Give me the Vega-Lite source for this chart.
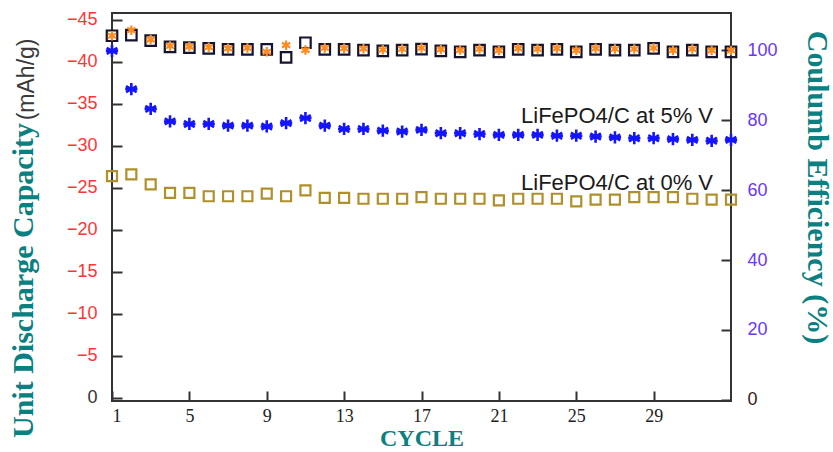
{
  "$schema": "https://vega.github.io/schema/vega-lite/v6.json",
  "width": 619,
  "height": 388,
  "autosize": {"type": "none"},
  "padding": {"left": 112, "top": 13, "right": 102, "bottom": 51},
  "background": "white",
  "config": {
    "view": {"stroke": "#333333", "strokeWidth": 2},
    "axis": {"grid": false, "domain": false, "tickColor": "#333333", "tickWidth": 2}
  },
  "datasets": {
    "cap0": [
      {"cycle": 1, "capacity": -26.4}, {"cycle": 2, "capacity": -26.6}, {"cycle": 3, "capacity": -25.4},
      {"cycle": 4, "capacity": -24.4}, {"cycle": 5, "capacity": -24.4}, {"cycle": 6, "capacity": -24.0},
      {"cycle": 7, "capacity": -24.0}, {"cycle": 8, "capacity": -24.0}, {"cycle": 9, "capacity": -24.3},
      {"cycle": 10, "capacity": -24.0}, {"cycle": 11, "capacity": -24.7}, {"cycle": 12, "capacity": -23.8},
      {"cycle": 13, "capacity": -23.8}, {"cycle": 14, "capacity": -23.7}, {"cycle": 15, "capacity": -23.7},
      {"cycle": 16, "capacity": -23.7}, {"cycle": 17, "capacity": -23.9}, {"cycle": 18, "capacity": -23.7},
      {"cycle": 19, "capacity": -23.7}, {"cycle": 20, "capacity": -23.7}, {"cycle": 21, "capacity": -23.5},
      {"cycle": 22, "capacity": -23.7}, {"cycle": 23, "capacity": -23.7}, {"cycle": 24, "capacity": -23.7},
      {"cycle": 25, "capacity": -23.4}, {"cycle": 26, "capacity": -23.6}, {"cycle": 27, "capacity": -23.6},
      {"cycle": 28, "capacity": -23.9}, {"cycle": 29, "capacity": -23.9}, {"cycle": 30, "capacity": -23.9},
      {"cycle": 31, "capacity": -23.7}, {"cycle": 32, "capacity": -23.6}, {"cycle": 33, "capacity": -23.6}
    ],
    "cap5": [
      {"cycle": 1, "capacity": -41.3}, {"cycle": 2, "capacity": -36.75}, {"cycle": 3, "capacity": -34.4},
      {"cycle": 4, "capacity": -32.9}, {"cycle": 5, "capacity": -32.6}, {"cycle": 6, "capacity": -32.6},
      {"cycle": 7, "capacity": -32.4}, {"cycle": 8, "capacity": -32.4}, {"cycle": 9, "capacity": -32.3},
      {"cycle": 10, "capacity": -32.7}, {"cycle": 11, "capacity": -33.3}, {"cycle": 12, "capacity": -32.4},
      {"cycle": 13, "capacity": -32.0}, {"cycle": 14, "capacity": -32.0}, {"cycle": 15, "capacity": -31.8},
      {"cycle": 16, "capacity": -31.7}, {"cycle": 17, "capacity": -31.9}, {"cycle": 18, "capacity": -31.5},
      {"cycle": 19, "capacity": -31.5}, {"cycle": 20, "capacity": -31.4}, {"cycle": 21, "capacity": -31.3},
      {"cycle": 22, "capacity": -31.3}, {"cycle": 23, "capacity": -31.3}, {"cycle": 24, "capacity": -31.2},
      {"cycle": 25, "capacity": -31.2}, {"cycle": 26, "capacity": -31.1}, {"cycle": 27, "capacity": -31.0},
      {"cycle": 28, "capacity": -30.9}, {"cycle": 29, "capacity": -30.9}, {"cycle": 30, "capacity": -30.8},
      {"cycle": 31, "capacity": -30.7}, {"cycle": 32, "capacity": -30.6}, {"cycle": 33, "capacity": -30.7}
    ],
    "eff0": [
      {"cycle": 1, "efficiency": 104.1}, {"cycle": 2, "efficiency": 104.3}, {"cycle": 3, "efficiency": 102.7},
      {"cycle": 4, "efficiency": 100.9}, {"cycle": 5, "efficiency": 100.7}, {"cycle": 6, "efficiency": 100.5},
      {"cycle": 7, "efficiency": 100.2}, {"cycle": 8, "efficiency": 100.2}, {"cycle": 9, "efficiency": 100.2},
      {"cycle": 10, "efficiency": 97.9}, {"cycle": 11, "efficiency": 102.1}, {"cycle": 12, "efficiency": 100.2},
      {"cycle": 13, "efficiency": 100.2}, {"cycle": 14, "efficiency": 100.0}, {"cycle": 15, "efficiency": 99.8},
      {"cycle": 16, "efficiency": 100.0}, {"cycle": 17, "efficiency": 100.3}, {"cycle": 18, "efficiency": 99.8},
      {"cycle": 19, "efficiency": 99.5}, {"cycle": 20, "efficiency": 100.0}, {"cycle": 21, "efficiency": 99.5},
      {"cycle": 22, "efficiency": 100.2}, {"cycle": 23, "efficiency": 100.0}, {"cycle": 24, "efficiency": 100.2},
      {"cycle": 25, "efficiency": 99.5}, {"cycle": 26, "efficiency": 100.2}, {"cycle": 27, "efficiency": 100.0},
      {"cycle": 28, "efficiency": 100.0}, {"cycle": 29, "efficiency": 100.5}, {"cycle": 30, "efficiency": 99.5},
      {"cycle": 31, "efficiency": 100.0}, {"cycle": 32, "efficiency": 99.5}, {"cycle": 33, "efficiency": 99.5}
    ],
    "eff5": [
      {"cycle": 1, "efficiency": 104.1}, {"cycle": 2, "efficiency": 105.7}, {"cycle": 3, "efficiency": 103.0},
      {"cycle": 4, "efficiency": 101.2}, {"cycle": 5, "efficiency": 101.0}, {"cycle": 6, "efficiency": 100.8},
      {"cycle": 7, "efficiency": 100.5}, {"cycle": 8, "efficiency": 100.6}, {"cycle": 9, "efficiency": 99.5},
      {"cycle": 10, "efficiency": 101.4}, {"cycle": 11, "efficiency": 100.0}, {"cycle": 12, "efficiency": 100.6},
      {"cycle": 13, "efficiency": 100.5}, {"cycle": 14, "efficiency": 100.4}, {"cycle": 15, "efficiency": 100.1},
      {"cycle": 16, "efficiency": 100.3}, {"cycle": 17, "efficiency": 100.6}, {"cycle": 18, "efficiency": 100.2},
      {"cycle": 19, "efficiency": 100.0}, {"cycle": 20, "efficiency": 100.3}, {"cycle": 21, "efficiency": 99.9},
      {"cycle": 22, "efficiency": 100.5}, {"cycle": 23, "efficiency": 100.3}, {"cycle": 24, "efficiency": 100.5},
      {"cycle": 25, "efficiency": 99.9}, {"cycle": 26, "efficiency": 100.5}, {"cycle": 27, "efficiency": 100.3},
      {"cycle": 28, "efficiency": 100.3}, {"cycle": 29, "efficiency": 100.6}, {"cycle": 30, "efficiency": 99.9},
      {"cycle": 31, "efficiency": 100.3}, {"cycle": 32, "efficiency": 99.9}, {"cycle": 33, "efficiency": 99.9}
    ]
  },
  "layer": [
    {
      "layer": [
        {
          "data": {"name": "cap0"},
          "mark": {"type": "point", "shape": "square", "filled": false, "size": 100, "strokeWidth": 2.2, "color": "#b0902a", "opacity": 1},
          "encoding": {
            "x": {
              "field": "cycle",
              "type": "quantitative",
              "scale": {"domain": [1, 33], "nice": false, "zero": false},
              "axis": {
                "values": [1, 5, 9, 13, 17, 21, 25, 29],
                "tickSize": -10,
                "labelPadding": 16,
                "labelFont": "Liberation Sans Narrow",
                "labelFontSize": 18,
                "labelColor": "#222222",
                "title": "CYCLE",
                "titleFont": "Liberation Serif",
                "titleFontWeight": "bold",
                "titleFontSize": 24,
                "titleColor": "#0a8080",
                "titleBaseline": "middle",
                "titleY": 37
              }
            },
            "y": {
              "field": "capacity",
              "type": "quantitative",
              "scale": {"domain": [0.36, -45.8], "nice": false, "zero": false},
              "axis": {
                "values": [-45, -40, -35, -30, -25, -20, -15, -10, -5, 0],
                "tickSize": -10,
                "labelPadding": 25,
                "labelFont": "Liberation Sans",
                "labelFontSize": 18,
                "labelColor": {"condition": {"test": "datum.value == 0", "value": "#333333"}, "value": "#ff3535"},
                "title": "Unit Discharge Capacity",
                "titleFont": "Liberation Serif",
                "titleFontWeight": "bold",
                "titleFontSize": 30,
                "titleColor": "#0a8080",
                "titleAngle": 270,
                "titleAlign": "center",
                "titleBaseline": "middle",
                "titleX": -89,
                "titleY": 267
              }
            }
          }
        },
        {
          "data": {"name": "cap5"},
          "mark": {"type": "point", "shape": "M0,-1L0,1M-0.87,-0.5L0.87,0.5M-0.87,0.5L0.87,-0.5M-1,0L1,0", "filled": false, "size": 150, "strokeWidth": 2.6, "color": "#1414ff", "opacity": 1},
          "encoding": {
            "x": {"field": "cycle", "type": "quantitative", "title": "CYCLE"},
            "y": {"field": "capacity", "type": "quantitative", "title": "Unit Discharge Capacity"}
          }
        },
        {
          "data": {"values": [{"label": "LiFePO4/C at 5% V"}]},
          "mark": {"type": "text", "align": "right", "baseline": "middle", "font": "Liberation Sans", "fontSize": 22, "color": "#1a1a1a"},
          "encoding": {"x": {"datum": 32.07, "type": "quantitative"}, "y": {"datum": -33.5, "type": "quantitative"}, "text": {"field": "label"}}
        },
        {
          "data": {"values": [{"label": "LiFePO4/C at 0% V"}]},
          "mark": {"type": "text", "align": "right", "baseline": "middle", "font": "Liberation Sans", "fontSize": 22, "color": "#1a1a1a"},
          "encoding": {"x": {"datum": 32.07, "type": "quantitative"}, "y": {"datum": -25.6, "type": "quantitative"}, "text": {"field": "label"}}
        },
        {
          "data": {"values": [{"label": "(mAh/g)"}]},
          "mark": {"type": "text", "align": "center", "baseline": "middle", "angle": 270, "font": "Liberation Sans", "fontSize": 23, "color": "#3a3a3a"},
          "encoding": {"x": {"datum": -3.4, "type": "quantitative"}, "y": {"datum": -37.9, "type": "quantitative"}, "text": {"field": "label"}}
        }
      ]
    },
    {
      "layer": [
        {
          "data": {"name": "eff0"},
          "mark": {"type": "point", "shape": "square", "filled": false, "size": 110, "strokeWidth": 2.2, "color": "#141430", "opacity": 1},
          "encoding": {
            "x": {"field": "cycle", "type": "quantitative", "title": "CYCLE"},
            "y": {
              "field": "efficiency",
              "type": "quantitative",
              "scale": {"domain": [-0.3, 110.6], "nice": false, "zero": false},
              "axis": {
                "orient": "right",
                "values": [0, 20, 40, 60, 80, 100],
                "tickSize": -10,
                "labelPadding": 26,
                "labelFont": "Liberation Sans",
                "labelFontSize": 18,
                "labelColor": {"condition": {"test": "datum.value == 0", "value": "#3a1a1a"}, "value": "#6a35ff"},
                "title": "Coulumb Efficiency (%)",
                "titleFont": "Liberation Serif",
                "titleFontWeight": "bold",
                "titleFontSize": 30,
                "titleColor": "#0a8080",
                "titleAngle": 90,
                "titleAlign": "center",
                "titleBaseline": "middle",
                "titleX": 85,
                "titleY": 174
              }
            }
          }
        },
        {
          "data": {"name": "eff5"},
          "mark": {"type": "point", "shape": "M0,-1L0,1M-0.87,-0.5L0.87,0.5M-0.87,0.5L0.87,-0.5", "filled": false, "size": 90, "strokeWidth": 2.2, "color": "#ff8a1e", "opacity": 1},
          "encoding": {
            "x": {"field": "cycle", "type": "quantitative", "title": "CYCLE"},
            "y": {"field": "efficiency", "type": "quantitative", "title": "Coulumb Efficiency (%)"}
          }
        }
      ]
    }
  ],
  "resolve": {"scale": {"y": "independent"}}
}
